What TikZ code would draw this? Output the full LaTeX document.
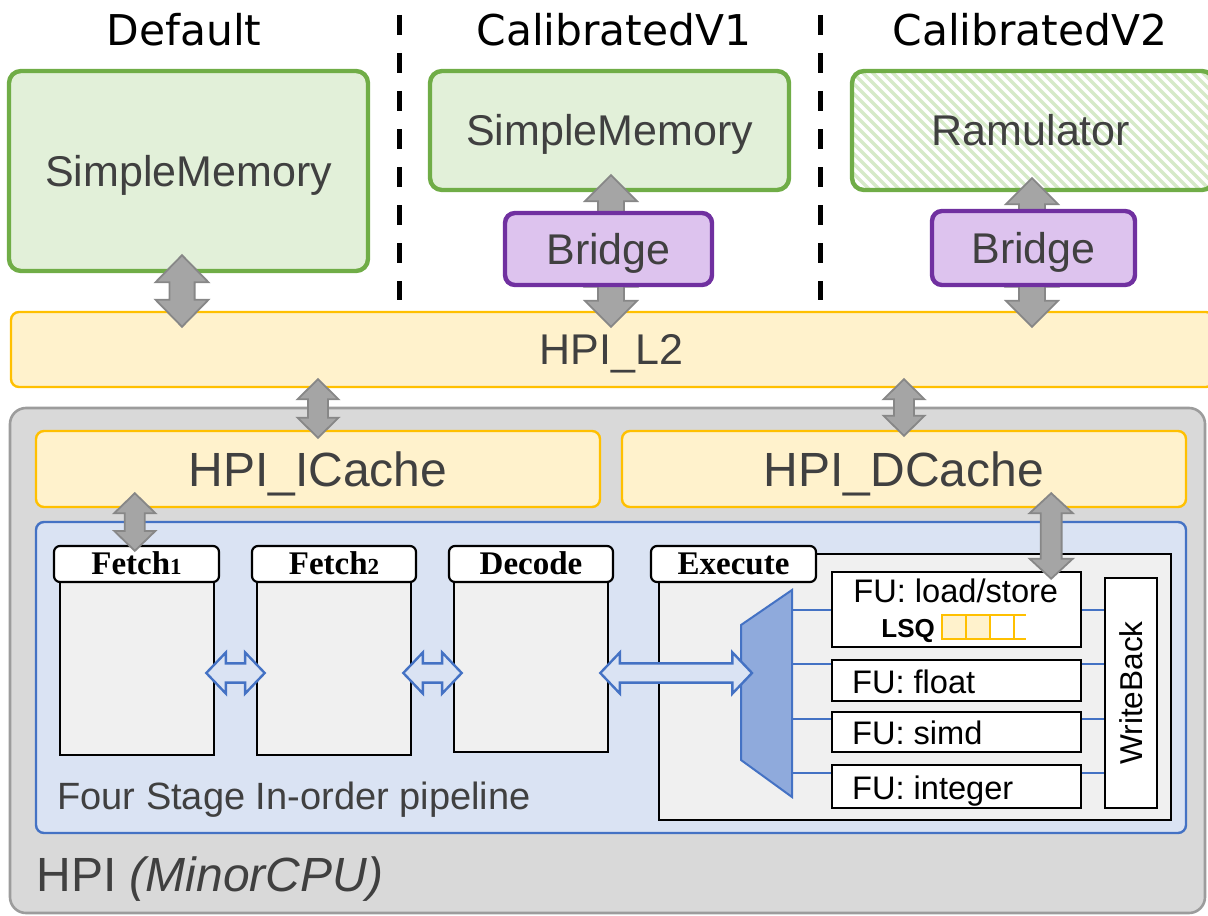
\documentclass[tikz,border=0pt]{standalone}
\usepackage{fontspec}
\setmainfont{Liberation Sans}
\newfontfamily\titlefont{DejaVu Sans}
\newfontfamily\tabfont{Liberation Serif}
\usetikzlibrary{calc,fit}
\definecolor{gborder}{HTML}{70AD47}
\definecolor{gfill}{HTML}{E2F0D9}
\definecolor{hatchc}{HTML}{D6EAC8}
\definecolor{pborder}{HTML}{7030A0}
\definecolor{pfill}{HTML}{DDC3EE}
\definecolor{yborder}{HTML}{FFC000}
\definecolor{yfill}{HTML}{FFF2CC}
\definecolor{hpifill}{HTML}{D9D9D9}
\definecolor{hpiborder}{HTML}{9C9C9C}
\definecolor{bborder}{HTML}{4472C4}
\definecolor{bfill}{HTML}{DAE3F3}
\definecolor{muxfill}{HTML}{8FAADC}
\definecolor{stagefill}{HTML}{F0F0F0}
\definecolor{txt}{HTML}{404040}
\definecolor{arrfill}{HTML}{A5A5A5}
\definecolor{arrdraw}{HTML}{878787}
\newcommand\fsz[1]{\fontsize{#1pt}{#1pt}\selectfont}
% vertical fat double arrow: #1 top tip, #2 bottom tip, #3 shaft half, #4 head half, #5 head length, #6 style
\newcommand\vfat[6]{\draw[#6] let \p1=#1, \p2=#2 in
  (\x1,\y1) -- (\x1+#4,\y1-#5) -- (\x1+#3,\y1-#5) -- (\x1+#3,\y2+#5) -- (\x1+#4,\y2+#5)
  -- (\x1,\y2) -- (\x1-#4,\y2+#5) -- (\x1-#3,\y2+#5) -- (\x1-#3,\y1-#5) -- (\x1-#4,\y1-#5) -- cycle;}
% horizontal fat double arrow: #1 left tip, #2 right tip
\newcommand\hfat[6]{\draw[#6] let \p1=#1, \p2=#2 in
  (\x1,\y1) -- (\x1+#5,\y1+#4) -- (\x1+#5,\y1+#3) -- (\x2-#5,\y1+#3) -- (\x2-#5,\y1+#4)
  -- (\x2,\y1) -- (\x2-#5,\y1-#4) -- (\x2-#5,\y1-#3) -- (\x1+#5,\y1-#3) -- (\x1+#5,\y1-#4) -- cycle;}
\tikzset{
  membox/.style={draw=gborder, fill=gfill, line width=2.2pt, rounded corners=6pt, inner sep=0pt},
  bridgebox/.style={draw=pborder, fill=pfill, line width=2.2pt, rounded corners=5pt, inner sep=0pt},
  cachebox/.style={draw=yborder, fill=yfill, line width=1.2pt, rounded corners=4pt, inner sep=0pt},
  hpibox/.style={draw=hpiborder, fill=hpifill, line width=1.3pt, rounded corners=8pt, inner sep=0pt},
  pipebox/.style={draw=bborder, fill=bfill, line width=1.2pt, rounded corners=4pt, inner sep=0pt},
  stagebody/.style={draw=black, fill=stagefill, line width=1.3pt, inner sep=0pt},
  stagetab/.style={draw=black, fill=white, line width=1.1pt, rounded corners=3pt, inner sep=0pt},
  fubox/.style={draw=black, fill=white, line width=1.3pt, inner sep=0pt},
  biglabel/.style={inner sep=0pt, text=txt, font=\fsz{21.5}, text height=15.4pt, text depth=0pt},
  cachelabel/.style={inner sep=0pt, text=txt, font=\fsz{24}, text height=17.2pt, text depth=0pt},
  tablabel/.style={inner sep=0pt, text=black, font=\tabfont\bfseries\fsz{16.5}, text height=10.9pt, text depth=0pt},
  fulabel/.style={inner sep=0pt, text=black, font=\fsz{16.3}, text height=11.7pt, text depth=0pt},
  titletext/.style={inner sep=0pt, text=black, font=\titlefont\fsz{21.2}},
  plainlabel/.style={inner sep=0pt, text=txt},
  sepline/.style={draw=black, line width=2.5pt, dash pattern=on 10pt off 9pt},
  grayarrow/.style={fill=arrfill, draw=arrdraw, line width=0.9pt},
  bluearrow/.style={fill=bfill, draw=bborder, line width=1.2pt},
  bline/.style={draw=bborder, line width=1.2pt},
  muxshape/.style={fill=muxfill, draw=bborder, line width=1pt},
}
\newcommand\digit[1]{{\fsz{11.5}#1}}
\begin{document}
\begin{tikzpicture}[x=0.5pt, y=-0.5pt]
\useasboundingbox (0,0) rectangle (1208,915);

% titles
\node[titletext, anchor=base] (tdef) at (184,46) {Default};
\node[titletext, anchor=base] (tv1) at (614,46) {CalibratedV1};
\node[titletext, anchor=base] (tv2) at (1030,46) {CalibratedV2};

% separators
\coordinate (s1t) at (399,15); \coordinate (s1b) at (399,300);
\coordinate (s2t) at (820,15); \coordinate (s2b) at (820,300);
\draw[sepline] (s1t) -- (s1b);
\draw[sepline] (s2t) -- (s2b);

% memories
\node[membox, fit={(9,71) (368,271)}] (mem0) {};
\node[biglabel] (mem0txt) at (mem0.center) {SimpleMemory};
\node[membox, fit={(430,71) (789,190)}] (mem1) {};
\node[biglabel] (mem1txt) at (mem1.center) {SimpleMemory};
\begin{scope}
  \clip[rounded corners=6pt] (852,71) rectangle (1214,190);
  \fill[white] (852,71) rectangle (1214,190);
  \foreach \i in {0,...,52} \draw[hatchc, line width=1.7pt] ({700+\i*10},60) -- ++(140,140);
\end{scope}
\node[membox, fill=none, fit={(852,71) (1214,190)}] (mem2) {};
\node[biglabel] (mem2txt) at ($(mem2.center)+(-2,0)$) {Ramulator};

% L2
\node[cachebox, fit={(11,312) (1214,387)}] (l2) {};
\node[biglabel] (l2txt) at ($(l2.center)+(-1,0)$) {HPI\_L2};

% gray arrows, memory side
\vfat{($(mem0.south)+(-6.5,-18)$)}{($(mem0.south |- l2.north)+(-6.5,16)$)}{6.3pt}{13.2pt}{13.5pt}{grayarrow}
\vfat{($(mem1.south)+(1.5,-17)$)}{($(mem1.south)+(1.5,50)$)}{6.5pt}{13pt}{13pt}{grayarrow}
\vfat{($(mem1.south |- l2.north)+(1.5,-50)$)}{($(mem1.south |- l2.north)+(1.5,16)$)}{6.5pt}{13pt}{13pt}{grayarrow}
\vfat{($(mem2.south)+(-1,-14)$)}{($(mem2.south)+(-1,50)$)}{6.5pt}{13pt}{13pt}{grayarrow}
\vfat{($(mem2.south |- l2.north)+(-1,-50)$)}{($(mem2.south |- l2.north)+(-1,16)$)}{6.5pt}{13pt}{13pt}{grayarrow}

% bridges
\node[bridgebox, fit={(505,213) (712,285)}] (br1) {};
\node[biglabel] (br1txt) at (br1.center) {Bridge};
\node[bridgebox, fit={(932,211) (1135,285)}] (br2) {};
\node[biglabel] (br2txt) at (br2.center) {Bridge};

% HPI
\node[hpibox, fit={(10,408) (1205,913)}] (hpi) {};
\node[plainlabel, anchor=base west, font=\fsz{24}] (hpilbl) at (36,891) {HPI \textit{(MinorCPU)}};

\node[cachebox, fit={(36,431) (600,507)}] (ic) {};
\node[cachelabel] (ictxt) at (ic.center) {HPI\_ICache};
\node[cachebox, fit={(622,431) (1186,507)}] (dc) {};
\node[cachelabel] (dctxt) at (dc.center) {HPI\_DCache};

\node[pipebox, fit={(36,522) (1186,833)}] (pipe) {};
\node[plainlabel, anchor=base west, font=\fsz{19}] (pipelbl) at (57,809) {Four Stage In-order pipeline};

% stages
\node[stagebody, fit={(60,582) (214,755)}] (f1) {};
\node[stagetab, fit={(54,546) (219,582)}] (f1t) {};
\node[tablabel] (f1txt) at (f1t.center) {Fetch\digit{1}};
\node[stagebody, fit={(257,582) (411,755)}] (f2) {};
\node[stagetab, fit={(252,546) (416,582)}] (f2t) {};
\node[tablabel] (f2txt) at (f2t.center) {Fetch\digit{2}};
\node[stagebody, fit={(454,582) (608,752)}] (dec) {};
\node[stagetab, fit={(449,546) (613,582)}] (dect) {};
\node[tablabel] (dectxt) at (dect.center) {Decode};
\node[stagebody, fit={(659,554) (1171,820)}] (exe) {};
\node[stagetab, fit={(651,546) (816,582)}] (exet) {};
\node[tablabel] (exetxt) at (exet.center) {Execute};

% mux
\coordinate (mux1) at (741,625); \coordinate (mux2) at (792,590);
\coordinate (mux3) at (792,797); \coordinate (mux4) at (741,760);
\coordinate (muxr) at (792,693); \coordinate (muxin) at (752,673);
\draw[muxshape] (mux1) -- (mux2) -- (mux3) -- (mux4) -- cycle;

% functional units
\node[fubox, fit={(832,572) (1081,647)}] (fuls) {};
\node[fulabel, anchor=base west] (fulstxt) at (853,602) {FU: load/store};
\node[inner sep=0pt, anchor=base west, font=\bfseries\fsz{13}] (lsq) at (881,637) {LSQ};
\fill[yfill] (942,615) rectangle (990,639);
\draw[yborder, line width=1.2pt] (1026,615) -- (942,615) -- (942,639) -- (1026,639);
\foreach \qx in {966,990,1014} \draw[yborder, line width=1.2pt] (\qx,615) -- (\qx,639);

\node[fubox, fit={(832,660) (1081,701)}] (fuf) {};
\node[fulabel, anchor=west] (fuftxt) at ($(fuf.west)+(21,1)$) {FU: float};
\node[fubox, fit={(832,712) (1081,752)}] (fus) {};
\node[fulabel, anchor=west] (fustxt) at ($(fus.west)+(21,1)$) {FU: simd};
\node[fubox, fit={(832,765) (1081,808)}] (fui) {};
\node[fulabel, anchor=west] (fuitxt) at ($(fui.west)+(21,1)$) {FU: integer};
\node[fubox, fit={(1105,578) (1157,808)}] (wb) {};
\node[inner sep=0pt, font=\fsz{15.8}, rotate=90] (wbtxt) at (wb.center) {WriteBack};

% blue connectors mux -> FU -> writeback
\coordinate (yls) at ($(fuls.north west)+(0,39)$);
\coordinate (yf) at ($(fuf.north west)+(0,5)$);
\coordinate (ys) at ($(fus.north west)+(0,8)$);
\coordinate (yi) at ($(fui.north west)+(0,9)$);
\foreach \yy in {yls,yf,ys,yi}{
  \draw[bline] (\yy -| muxr) -- (\yy);
  \draw[bline] (\yy -| fuls.east) -- (\yy -| wb.west);
}

% blue hollow arrows between stages
\hfat{($(f1.east)+(-9,4.5)$)}{($(f2.west)+(9,4.5)$)}{4.8pt}{10.3pt}{9.8pt}{bluearrow}
\hfat{($(f2.east)+(-9,4.5)$)}{($(dec.west)+(9,6)$)}{4.8pt}{10.3pt}{9.8pt}{bluearrow}
\hfat{($(dec.east)+(-9,6)$)}{(muxin)}{4.8pt}{10.3pt}{9.8pt}{bluearrow}

% gray arrows inside HPI
\vfat{($(ic.north |- l2.south)+(0,-9)$)}{($(ic.north)+(0,8)$)}{5pt}{10.2pt}{10pt}{grayarrow}
\vfat{($(dc.north |- l2.south)+(0,-9)$)}{($(dc.north)+(0,6)$)}{5pt}{10.2pt}{10pt}{grayarrow}
\vfat{($(ic.south west)+(100,-15)$)}{($(f1t.north)+(0,6)$)}{5pt}{10.3pt}{10pt}{grayarrow}
\vfat{($(dc.south east)+(-136,-15)$)}{($(fuls.north east)+(-31,8)$)}{5.2pt}{10.8pt}{10pt}{grayarrow}
\end{tikzpicture}
\end{document}
